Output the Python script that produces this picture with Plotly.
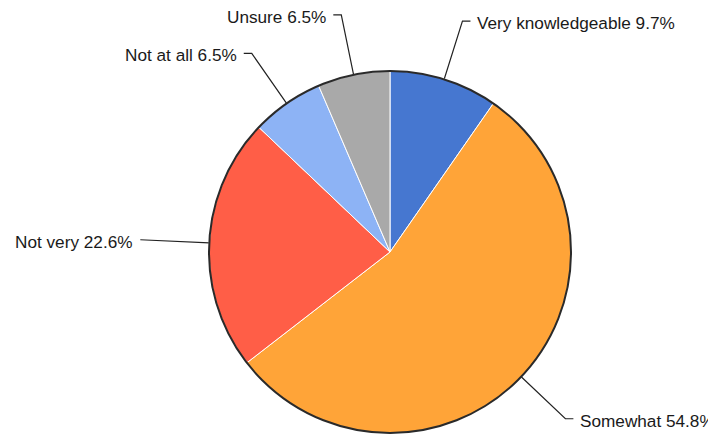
"""Pie of self-rated knowledge, with elbow leader labels."""

import math

import plotly.graph_objects as go

# the page body keeps its default 8px margin, so the figure is drawn 8px in
PAGE_MARGIN = 8
WIDTH = 716 - PAGE_MARGIN
HEIGHT = 434 - PAGE_MARGIN

categories = ["Very knowledgeable", "Somewhat", "Not very", "Not at all", "Unsure"]
counts = [3, 17, 7, 2, 2]
colors = ["#4677d0", "#ffa438", "#ff5e47", "#8db3f5", "#a9a9a9"]

# pie geometry in figure pixels
CX, CY, R = 390.0 - PAGE_MARGIN, 252.0 - PAGE_MARGIN, 181.0
ELBOW_R = 242.0
TAIL = 8.0
GAP = 5.0

total = sum(counts)
shares = [c / total for c in counts]

fig = go.Figure()

fig.add_trace(
    go.Pie(
        labels=categories,
        values=counts,
        sort=False,
        direction="clockwise",
        rotation=0,
        textinfo="none",
        hoverinfo="label+percent",
        marker={"colors": colors, "line": {"color": "white", "width": 1}},
        domain={
            "x": [(CX - R) / WIDTH, (CX + R) / WIDTH],
            "y": [1 - (CY + R) / HEIGHT, 1 - (CY - R) / HEIGHT],
        },
        showlegend=False,
    )
)

# leader lines + labels, placed from each slice's mid angle
cum = 0.0
for name, share in zip(categories, shares):
    mid = (cum + share / 2) * 2 * math.pi
    cum += share
    sx, sy = math.sin(mid), -math.cos(mid)
    edge = (CX + R * sx, CY + R * sy)
    elbow = (CX + ELBOW_R * sx, CY + ELBOW_R * sy)
    side = 1 if sx > 0 else -1
    tail = (elbow[0] + side * TAIL, elbow[1])
    fig.add_trace(
        go.Scatter(
            x=[edge[0], elbow[0], tail[0]],
            y=[edge[1], elbow[1], tail[1]],
            mode="lines",
            line={"color": "#222222", "width": 1.2},
            hoverinfo="skip",
            showlegend=False,
        )
    )
    fig.add_annotation(
        x=tail[0] + side * GAP,
        y=tail[1] + 2,
        xref="x",
        yref="y",
        text=f"{name} {share * 100:.1f}%",
        showarrow=False,
        xanchor="left" if side > 0 else "right",
        yanchor="middle",
        font={"family": "Liberation Sans, Arial, sans-serif", "size": 17.2, "color": "#1a1a1a"},
    )

# dark outer rim
fig.add_shape(
    type="circle",
    xref="x",
    yref="y",
    x0=CX - R,
    x1=CX + R,
    y0=CY - R,
    y1=CY + R,
    line={"color": "#2a2a2a", "width": 2},
    layer="above",
)

fig.update_layout(
    width=WIDTH,
    height=HEIGHT,
    margin={"l": 0, "r": 0, "t": 0, "b": 0},
    paper_bgcolor="white",
    plot_bgcolor="rgba(0,0,0,0)",
    showlegend=False,
)
fig.update_xaxes(range=[0, WIDTH], visible=False, fixedrange=True)
fig.update_yaxes(range=[HEIGHT, 0], visible=False, fixedrange=True)

fig.write_html("out.html")
